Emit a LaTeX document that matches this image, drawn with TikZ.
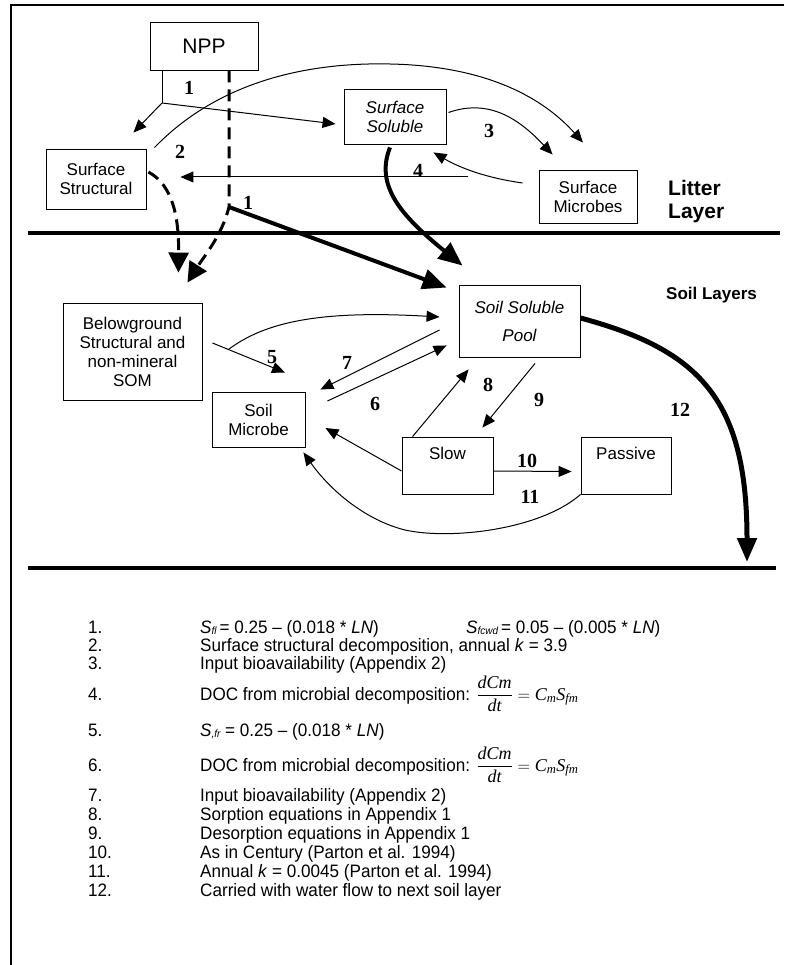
\documentclass[tikz,border=0pt]{standalone}
\usepackage{fontspec}
\setmainfont{Liberation Sans}
\newfontfamily\serifnum{Liberation Serif}
\newfontfamily\keyfont[FakeStretch=0.95]{Liberation Sans}
\usepackage{tikz}
\usetikzlibrary{arrows.meta}
\usetikzlibrary{calc}

\newcommand{\Sx}[1]{\textit{S}\raisebox{-1.5pt}{\fontsize{10.5}{10.5}\selectfont\itshape #1}}
\newcommand{\dcdt}{$\displaystyle\frac{\mbox{\serifnum\itshape dCm}}{\mbox{\serifnum\itshape dt}} = \mbox{\serifnum\itshape C\textsubscript{m}S\textsubscript{fm}}$}

\begin{document}
\begin{tikzpicture}[x=1pt,y=-1pt,
  box/.style={draw,line width=0.9pt,align=center,inner sep=0pt,font=\fontsize{17}{19}\selectfont},
  ital/.style={font=\fontsize{17}{19}\selectfont\itshape},
  toptext/.style={text height=12pt,text depth=25pt},
  arr/.style={line width=1pt,-{Triangle[length=13pt,width=11pt]}},
  bigarr/.style={line width=4pt,-{Triangle[length=24pt,width=20pt]}},
  dasharr/.style={line width=3pt,dash pattern=on 12pt off 7pt,-{Triangle[length=20pt,width=20pt]}},
  num/.style={font=\serifnum\bfseries\fontsize{20}{20}\selectfont},
  layer/.style={line width=3.2pt},
  key/.style={anchor=base west,inner sep=0pt,font=\keyfont\fontsize{18}{19}\selectfont}]
\useasboundingbox (0,0) rectangle (784,965);
\draw[line width=1.5pt] (784,5) -- (11,5) -- (11,965);

\node[box,minimum width=108pt,minimum height=48pt,font=\fontsize{21}{21}\selectfont] (npp) at (204,46) {NPP};
\node[box,minimum width=100pt,minimum height=60pt] (sstruct) at (96,179) {Surface\\Structural};
\node[box,ital,minimum width=102pt,minimum height=55pt] (ssol) at (395,116.5) {Surface\\Soluble};
\node[box,minimum width=98pt,minimum height=53pt] (smic) at (588,196.5) {Surface\\Microbes};
\node[anchor=west,align=left,inner sep=0pt,font=\bfseries\fontsize{21}{23}\selectfont] (litter) at (668,202) {Litter\\Layer};
\node[anchor=west,inner sep=0pt,font=\bfseries\fontsize{17}{20}\selectfont] (soillay) at (666,295) {Soil Layers};

\node[box,ital,minimum width=121pt,minimum height=72pt] (soilsol) at (519.5,321) {Soil Soluble\\[9pt]Pool};
\node[box,minimum width=139pt,minimum height=97pt] (below) at (132.5,351.5) {Belowground\\Structural and\\non-mineral\\SOM};
\node[box,minimum width=93pt,minimum height=55pt] (soilmic) at (258.5,419.5) {Soil\\Microbe};
\node[box,toptext,minimum width=91pt,minimum height=57pt] (slow) at (447.5,465.5) {Slow};
\node[box,toptext,minimum width=90pt,minimum height=57pt] (passive) at (626,465.5) {Passive};

\coordinate (fork) at (162,103);
\draw[line width=1pt] (npp.south -| fork) -- (fork);
\draw[arr] (fork) -- ([shift={(-13,-16)}]sstruct.north east);
\draw[arr] (fork) -- ([shift={(-8,7.5)}]ssol.west);
\draw[arr] ([shift={(8,-1)}]sstruct.north east) .. controls (215,85) and (300,62) .. (390,64) .. controls (490,66) and (545,100) .. ([shift={(-5,-27)}]smic.north);
\draw[arr] ([shift={(2,-4)}]ssol.east) .. controls (490,98) and (520,120) .. ([shift={(14,-15)}]smic.north west);
\draw[arr] ([shift={(-16,-13.5)}]smic.west) .. controls (480,177) and (455,165) .. ([shift={(-13,8)}]ssol.south east);
\coordinate (back) at (468,177);
\draw[arr] (back) -- ([shift={(34,-2)}]sstruct.east);

\coordinate (fork2) at (229,207);
\draw[dasharr] ([shift={(2,-7)}]sstruct.east) .. controls (172,185) and (179,215) .. ([shift={(-24,-30)}]below.north east);
\draw[dasharr] (npp.south -| fork2) -- (fork2) .. controls (222,235) and (205,255) .. ([shift={(-15,-20)}]below.north east);
\draw[bigarr] (fork2) -- ([shift={(-12,3)}]soilsol.north west);
\draw[bigarr] ([shift={(-5,3)}]ssol.south) .. controls (375,185) and (400,215) .. ([shift={(-57,-19)}]soilsol.north);

\draw[layer] (28,233) -- (780,233);

\draw[arr] ([shift={(10,-8.5)}]below.east) -- coordinate[pos=0.22] (branch) ([shift={(26.5,-19)}]soilmic.north);
\draw[arr] (branch) .. controls (265,322) and (320,310) .. ([shift={(-19,-4)}]soilsol.west);
\draw[arr] ([shift={(-19,9)}]soilsol.west) -- ([shift={(15,-2)}]soilmic.north east);
\draw[arr] ([shift={(22,-18.5)}]soilmic.east) -- ([shift={(-12,-12)}]soilsol.south west);
\draw[arr] ([shift={(0,5.5)}]slow.west) -- ([shift={(20,8.5)}]soilmic.east);
\draw[arr] ([shift={(11,0)}]slow.north west) -- ([shift={(10,12)}]soilsol.south west);
\draw[arr] ([shift={(15.5,6)}]soilsol.south) -- ([shift={(-11,-9)}]slow.north east);
\draw[arr] ([shift={(0,5.5)}]slow.east) -- ([shift={(-9,6)}]passive.west);
\draw[arr] (passive.south west) .. controls (540,530) and (450,540) .. (405,530) .. controls (365,520) and (330,490) .. ([shift={(-2,5)}]soilmic.south east);
\coordinate (next) at (747,562);
\draw[line width=5pt,-{Triangle[length=24pt,width=19pt]}] ([shift={(0,-3)}]soilsol.east) .. controls (700,350) and (747,400) .. (next);

\draw[layer] (28,568) -- (776,568);

\node[num] at (189,88) {1};
\node[num] at (180,152) {2};
\node[num] at (489,131) {3};
\node[num] at (418,171) {4};
\node[num] at (248,203) {1};
\node[num] at (272,357) {5};
\node[num] at (375,404) {6};
\node[num] at (347,363) {7};
\node[num] at (488,385) {8};
\node[num] at (539,400) {9};
\node[num] at (527,461) {10};
\node[num] at (530,497) {11};
\node[num] at (680,410) {12};

\foreach \n/\y in {1/633,2/651,3/669,4/700,5/736,6/771,7/801,8/820,9/839,10/858,11/877,12/896}
  \node[key] (k\n) at (88,\y) {\n.};
\node[key] (t1) at (200,633) {\Sx{fl}\,= 0.25 – (0.018 * \textit{LN})};
\node[key] (t1b) at (466,633) {\Sx{fcwd}\,= 0.05 – (0.005 * \textit{LN})};
\node[key] (t2) at (200,651) {Surface structural decomposition, annual \textit{k} = 3.9};
\node[key] (t3) at (200,669) {Input bioavailability (Appendix 2)};
\node[key] (t4) at (200,700) {DOC from microbial decomposition: \dcdt};
\node[key] (t5) at (200,736) {\Sx{,fr} = 0.25 – (0.018 * \textit{LN})};
\node[key] (t6) at (200,771) {DOC from microbial decomposition: \dcdt};
\node[key] (t7) at (200,801) {Input bioavailability (Appendix 2)};
\node[key] (t8) at (200,820) {Sorption equations in Appendix 1};
\node[key] (t9) at (200,839) {Desorption equations in Appendix 1};
\node[key] (t10) at (200,858) {As in Century (Parton et al. 1994)};
\node[key] (t11) at (200,877) {Annual \textit{k} = 0.0045 (Parton et al. 1994)};
\node[key] (t12) at (200,896) {Carried with water flow to next soil layer};
\end{tikzpicture}
\end{document}
